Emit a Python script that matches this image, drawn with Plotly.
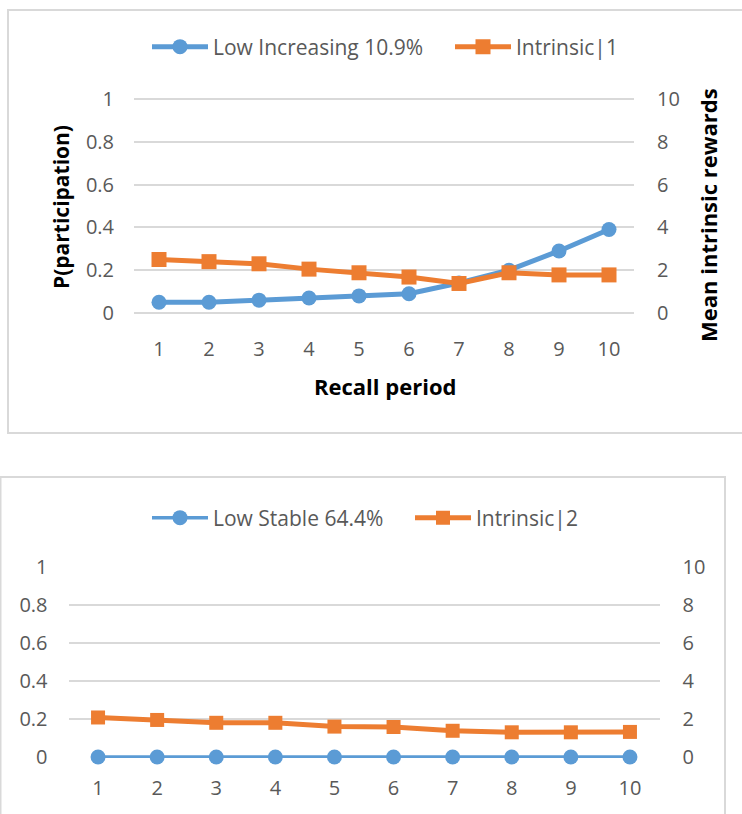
import plotly.graph_objects as go

# Recall periods shared by both panels
periods = [1, 2, 3, 4, 5, 6, 7, 8, 9, 10]

# Panel 1: Low Increasing class
p_low_increasing = [0.05, 0.05, 0.06, 0.07, 0.08, 0.09, 0.14, 0.20, 0.29, 0.39]
intrinsic_1 = [2.5, 2.4, 2.3, 2.05, 1.88, 1.68, 1.38, 1.88, 1.78, 1.78]

# Panel 2: Low Stable class
p_low_stable = [0, 0, 0, 0, 0, 0, 0, 0, 0, 0]
intrinsic_2 = [2.08, 1.95, 1.8, 1.8, 1.6, 1.58, 1.38, 1.3, 1.3, 1.32]

left_ticks = [0, 0.2, 0.4, 0.6, 0.8, 1]
left_tick_text = ["0", "0.2", "0.4", "0.6", "0.8", "1"]
right_ticks = [0, 2, 4, 6, 8, 10]

BLUE = "#5B9BD5"
ORANGE = "#ED7D31"
GRID = "#D9D9D9"
TICK = "#595959"
FONT = "Open Sans"

W, H = 742, 814
EPS = 0.005  # small pad so the 0 and max gridlines are kept


def px_x(v):
    return v / W


def px_y(v):
    return 1 - v / H


def y_domain(px_zero, px_one):
    """Paper domain such that 0 and the max land on the given pixel rows."""
    span = px_zero - px_one
    pad = span * EPS
    return [px_y(px_zero + pad), px_y(px_one - pad)]


def legend_box(x_px, y_px, size):
    # one entry per legend box, so each entry sits at its own spot
    return dict(orientation="h", x=px_x(x_px), y=px_y(y_px),
                xanchor="left", yanchor="middle", borderwidth=0,
                itemwidth=56,
                font=dict(family=FONT, size=size, color=TICK),
                bgcolor="rgba(0,0,0,0)")


fig = go.Figure()

# ---- top panel ----
fig.add_trace(go.Scatter(
    x=periods, y=p_low_increasing, name="Low Increasing 10.9%",
    mode="lines+markers", line=dict(color=BLUE, width=5),
    marker=dict(symbol="circle", size=15, color=BLUE), cliponaxis=False,
    showlegend=True, xaxis="x", yaxis="y", legend="legend"))
fig.add_trace(go.Scatter(
    x=periods, y=intrinsic_1, name="Intrinsic|1",
    mode="lines+markers", line=dict(color=ORANGE, width=5),
    marker=dict(symbol="square", size=15, color=ORANGE), cliponaxis=False,
    showlegend=True, xaxis="x", yaxis="y2", legend="legend2"))

# ---- bottom panel ----
fig.add_trace(go.Scatter(
    x=periods, y=p_low_stable, name="Low Stable 64.4%",
    mode="lines+markers", line=dict(color=BLUE, width=3.5),
    marker=dict(symbol="circle", size=15, color=BLUE), cliponaxis=False,
    showlegend=True, xaxis="x2", yaxis="y3", legend="legend3"))
fig.add_trace(go.Scatter(
    x=periods, y=intrinsic_2, name="Intrinsic|2",
    mode="lines+markers", line=dict(color=ORANGE, width=5),
    marker=dict(symbol="square", size=14, color=ORANGE), cliponaxis=False,
    showlegend=True, xaxis="x2", yaxis="y4", legend="legend4"))

tick_font_top = dict(family=FONT, size=20, color=TICK)
tick_font_bot = dict(family=FONT, size=20, color=TICK)

common = dict(zeroline=False, showline=False, automargin=False)

fig.update_layout(
    width=W, height=H, autosize=False, showlegend=True,
    margin=dict(l=0, r=0, t=0, b=0, pad=0),
    paper_bgcolor="white", plot_bgcolor="white",
    xaxis=dict(domain=[px_x(134), px_x(634)], anchor="y", range=[0.5, 10.5],
               tickvals=periods, showgrid=False,
               tickfont=tick_font_top, ticklabelstandoff=21, **common),
    yaxis=dict(domain=y_domain(313, 99), anchor="x", range=[-EPS, 1 + EPS],
               tickvals=left_ticks, ticktext=left_tick_text,
               showgrid=True, gridcolor=GRID, gridwidth=2,
               tickfont=tick_font_top, ticklabelstandoff=19, **common),
    yaxis2=dict(overlaying="y", side="right", anchor="x",
                range=[-10 * EPS, 10 + 10 * EPS],
                tickvals=right_ticks, showgrid=False,
                tickfont=tick_font_top, ticklabelstandoff=22, **common),
    xaxis2=dict(domain=[px_x(68.5), px_x(659.5)], anchor="y3", range=[0.5, 10.5],
                tickvals=periods, showgrid=False,
                tickfont=tick_font_bot, ticklabelstandoff=16, **common),
    yaxis3=dict(domain=y_domain(757, 567), anchor="x2", range=[-EPS, 1 + EPS],
                tickvals=left_ticks, ticktext=left_tick_text,
                showgrid=True, gridcolor=GRID, gridwidth=1.5,
                tickfont=tick_font_bot, ticklabelstandoff=20, **common),
    yaxis4=dict(overlaying="y3", side="right", anchor="x2",
                range=[-10 * EPS, 10 + 10 * EPS],
                tickvals=right_ticks, showgrid=False,
                tickfont=tick_font_bot, ticklabelstandoff=22, **common),
    legend=legend_box(147, 47, 21),
    legend2=legend_box(450, 47, 21),
    legend3=legend_box(147, 518, 21),
    legend4=legend_box(410, 518, 21),
    shapes=[
        dict(type="rect", xref="paper", yref="paper",
             x0=px_x(8), x1=px_x(748), y0=px_y(433), y1=px_y(10),
             line=dict(color=GRID, width=2), layer="below"),
        dict(type="rect", xref="paper", yref="paper",
             x0=px_x(0.5), x1=px_x(725), y0=px_y(830), y1=px_y(477),
             line=dict(color=GRID, width=2), layer="below"),
    ],
    annotations=[
        dict(text="<b>P(participation)</b>", xref="paper", yref="paper",
             x=px_x(61), y=px_y(207), textangle=-90, showarrow=False,
             font=dict(family=FONT, size=21, color="black"),
             xanchor="center", yanchor="middle"),
        dict(text="<b>Mean intrinsic rewards</b>", xref="paper", yref="paper",
             x=px_x(708), y=px_y(215), textangle=-90, showarrow=False,
             font=dict(family=FONT, size=22, color="black"),
             xanchor="center", yanchor="middle"),
        dict(text="<b>Recall period</b>", xref="paper", yref="paper",
             x=px_x(385), y=px_y(386), showarrow=False,
             font=dict(family=FONT, size=22, color="black"),
             xanchor="center", yanchor="middle"),
    ],
)

fig.write_html("out.html")
